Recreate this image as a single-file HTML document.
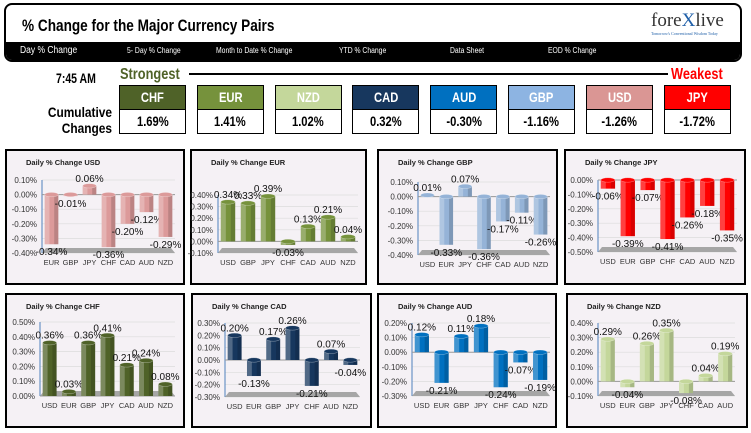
<!DOCTYPE html>
<html><head><meta charset="utf-8">
<style>
body{margin:0;width:751px;height:433px;background:#fff;overflow:hidden;font-family:"Liberation Sans",sans-serif;position:relative}
.abs{position:absolute}
.hdr{left:4px;top:3px;width:734px;height:55px;border:2px solid #000;border-radius:8px;overflow:hidden;background:#fff}
.nav{left:0;top:37px;width:734px;height:18px;background:#000}
.tab{color:#fff;font-size:8px;top:4px;transform:scaleX(.85);transform-origin:left;white-space:nowrap}
.box{width:65px;border:1px solid #000;text-align:center;font-weight:bold}
.bh{height:23px;line-height:23px;font-size:14px;color:#fff}
.bv{height:23px;line-height:23px;font-size:14px;color:#000;border-top:1px solid #000;background:#fff}
.sq{display:inline-block;transform:scaleX(.8)}
</style></head><body>
<div class="abs hdr">
  <div class="abs" style="left:16px;top:11px;font-size:17px;font-weight:bold;transform:scaleX(.8);transform-origin:left;white-space:nowrap">% Change for the Major Currency Pairs</div>
  <div class="abs" style="left:645px;top:6px;font-family:'Liberation Serif',serif;font-size:19px;color:#333;line-height:20px">fore<span style="color:#1f5fa8">X</span>live<div style="font-size:4px;line-height:5px;color:#1f5fa8">Tomorrow's Conventional Wisdom Today</div></div>
  <div class="abs nav">
    <div class="abs tab" style="left:14px;top:3px;font-size:10px">Day % Change</div>
    <div class="abs tab" style="left:121px">5- Day % Change</div>
    <div class="abs tab" style="left:210px">Month to Date % Change</div>
    <div class="abs tab" style="left:333px">YTD % Change</div>
    <div class="abs tab" style="left:444px">Data Sheet</div>
    <div class="abs tab" style="left:542px">EOD % Change</div>
  </div>
</div>
<div class="abs" style="left:56px;top:70px;font-size:14px;font-weight:bold;transform:scaleX(.75);transform-origin:left">7:45 AM</div>
<div class="abs" style="left:120px;top:66px;font-size:16px;font-weight:bold;color:#4f6228;transform:scaleX(.8);transform-origin:left">Strongest</div>
<div class="abs" style="left:189px;top:73px;width:479px;height:2px;background:#000"></div>
<div class="abs" style="left:671px;top:66px;font-size:16px;font-weight:bold;color:#ff0000;transform:scaleX(.8);transform-origin:left">Weakest</div>
<div class="abs" style="left:28px;top:104px;width:84px;text-align:right;font-size:14px;font-weight:bold;line-height:16px;transform:scaleX(.85);transform-origin:right">Cumulative<br>Changes</div>
<div id="boxes"></div>
<script>
const rankNames=["CHF","EUR","NZD","CAD","AUD","GBP","USD","JPY"];
const rankValues=["1.69%","1.41%","1.02%","0.32%","-0.30%","-1.16%","-1.26%","-1.72%"];
const colors={USD:"#dc9a9a",EUR:"#76923c",GBP:"#95b3d7",JPY:"#ff0000",CHF:"#4f6228",CAD:"#17375e",AUD:"#0070c0",NZD:"#c4d79b"};
const boxColors={CHF:"#4f6228",EUR:"#76923c",NZD:"#c4d79b",CAD:"#17375e",AUD:"#0070c0",GBP:"#8db4e2",USD:"#da9694",JPY:"#ff0000"};
const bx=document.getElementById('boxes');
rankNames.forEach((n,i)=>{
  const d=document.createElement('div');
  d.className='abs box';
  d.style.left=(119+i*77.8)+'px';d.style.top='85px';
  
  
  d.innerHTML='<div class="bh"><span class="sq">'+n+'</span></div><div class="bv"><span class="sq">'+rankValues[i]+'</span></div>';
  d.firstChild.style.background=boxColors[n];
  bx.appendChild(d);
});

const usdCats=["EUR","GBP","JPY","CHF","CAD","AUD","NZD"];
const usdVals=[-0.34,-0.01,0.06,-0.36,-0.20,-0.12,-0.29];
const eurCats=["USD","GBP","JPY","CHF","CAD","AUD","NZD"];
const eurVals=[0.34,0.33,0.39,-0.03,0.13,0.21,0.04];
const gbpCats=["USD","EUR","JPY","CHF","CAD","AUD","NZD"];
const gbpVals=[0.01,-0.33,0.07,-0.36,-0.17,-0.11,-0.26];
const jpyCats=["USD","EUR","GBP","CHF","CAD","AUD","NZD"];
const jpyVals=[-0.06,-0.39,-0.07,-0.41,-0.26,-0.18,-0.35];
const chfCats=["USD","EUR","GBP","JPY","CAD","AUD","NZD"];
const chfVals=[0.36,0.03,0.36,0.41,0.21,0.24,0.08];
const cadCats=["USD","EUR","GBP","JPY","CHF","AUD","NZD"];
const cadVals=[0.20,-0.13,0.17,0.26,-0.21,0.07,-0.04];
const audCats=["USD","EUR","GBP","JPY","CHF","CAD","NZD"];
const audVals=[0.12,-0.21,0.11,0.18,-0.24,-0.07,-0.19];
const nzdCats=["USD","EUR","GBP","JPY","CHF","CAD","AUD"];
const nzdVals=[0.29,-0.04,0.26,0.35,-0.08,0.04,0.19];
const axisMax=[0.10,0.40,0.10,0.00,0.50,0.30,0.20,0.40];
const axisMin=[-0.40,-0.10,-0.40,-0.50,0.00,-0.30,-0.30,-0.10];

const charts=[
 {cur:"USD",cats:usdCats,vals:usdVals,p:[5,149,180,136],ax:42,ar:175,yt:180,yb:253},
 {cur:"EUR",cats:eurCats,vals:eurVals,p:[190,149,177,136],ax:218,ar:358,yt:195,yb:253},
 {cur:"GBP",cats:gbpCats,vals:gbpVals,p:[377,149,181,136],ax:418,ar:550,yt:182,yb:255},
 {cur:"JPY",cats:jpyCats,vals:jpyVals,p:[564,149,182,136],ax:598,ar:737,yt:180,yb:252},
 {cur:"CHF",cats:chfCats,vals:chfVals,p:[5,293,180,135],ax:40,ar:175,yt:322,yb:396},
 {cur:"CAD",cats:cadCats,vals:cadVals,p:[191,293,181,135],ax:225,ar:360,yt:323,yb:397},
 {cur:"AUD",cats:audCats,vals:audVals,p:[377,293,180,135],ax:412,ar:550,yt:323,yb:396},
 {cur:"NZD",cats:nzdCats,vals:nzdVals,p:[566,293,182,135],ax:598,ar:735,yt:323,yb:396}
];
const NS="http://www.w3.org/2000/svg";
const svg=document.createElementNS(NS,'svg');
svg.setAttribute('width','751');svg.setAttribute('height','433');
svg.setAttribute('style','position:absolute;left:0;top:0');


document.body.appendChild(svg);
function el(t,a,par){const e=document.createElementNS(NS,t);for(const k in a)e.setAttribute(k,a[k]);(par||svg).appendChild(e);return e;}
charts.forEach((c,ci)=>{
  const g=el('g',{});
  
  
  const [px,py,pw,ph]=c.p;
  const frame=el('rect',{x:px+1,y:py+1,width:pw-2,height:ph-2,fill:'#f5f1f5',stroke:'#000','stroke-width':2},g);
  
  
  const title=el('text',{x:px+21,y:py+16,'font-size':7.5,'font-weight':'bold',fill:'#222'},g);
  title.textContent='Daily % Change '+c.cur;
  
  
  const vmax=axisMax[ci],vmin=axisMin[ci];
  const y=v=>c.yt+(vmax-v)/(vmax-vmin)*(c.yb-c.yt);
  const n=Math.round((vmax-vmin)/0.1);
  for(let i=0;i<=n;i++){
    const v=vmax-i*0.1;
    el('line',{x1:c.ax,x2:c.ar,y1:y(v),y2:y(v),stroke:'#dcdcdc','stroke-width':0.7},g);
    const t=el('text',{x:c.ax-5,y:y(v)+3,'font-size':8,'text-anchor':'end',fill:'#333'},g);
    t.textContent=v.toFixed(2).replace('-0.00','0.00')+'%';
    
    
  }
  el('line',{x1:c.ax,x2:c.ax,y1:c.yt,y2:c.yb,stroke:'#4f81bd','stroke-width':1},g);
  el('polygon',{points:`${c.ax},${c.yb} ${c.ar},${c.yb} ${c.ar-4},${c.yb-5} ${c.ax+4},${c.yb-5}`,fill:'#a6a6a6'},g);
  el('line',{x1:c.ax,x2:c.ar,y1:y(0),y2:y(0),stroke:'#999','stroke-width':1},g);
  const band=(c.ar-c.ax)/c.cats.length, bw=band*0.72;
  c.cats.forEach((cat,i)=>{
    const cx=c.ax+band*(i+0.5), v=c.vals[i];
    const y0=y(0), y1=y(v), top=Math.min(y0,y1), h=Math.abs(y1-y0);
    const bar=el('rect',{x:cx-bw/2,y:top,width:bw,height:Math.max(h,1),fill:colors[c.cur]},g);
    
    
    el('rect',{x:cx-bw/2,y:top,width:bw*0.35,height:Math.max(h,1),fill:'#fff','fill-opacity':0.25},g);
    el('rect',{x:cx+bw*0.2,y:top,width:bw*0.3,height:Math.max(h,1),fill:'#000','fill-opacity':0.15},g);
    el('ellipse',{cx:cx,cy:top,rx:bw/2,ry:2.2,fill:colors[c.cur],stroke:'#fff','stroke-opacity':0.5,'stroke-width':0.5},g);
    const lab=el('text',{x:cx,y:v>=0?top-4:top+h+11,'font-size':10,'text-anchor':'middle',fill:'#111'},g);
    lab.textContent=v.toFixed(2)+'%';
    
    
    const cl=el('text',{x:cx,y:c.yb+12,'font-size':7.5,'text-anchor':'middle',fill:'#333'},g);
    cl.textContent=cat;
    
    
  });
});
</script>
</body></html>
